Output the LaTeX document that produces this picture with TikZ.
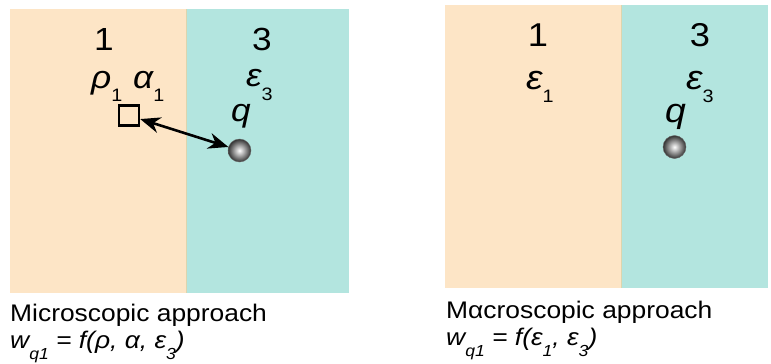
\documentclass[tikz,border=0pt]{standalone}
\usepackage{fontspec}
\setmainfont{Liberation Sans}
\usetikzlibrary{arrows.meta}
\definecolor{sand}{HTML}{FDE5C6}
\definecolor{aqua}{HTML}{B3E5DF}
\definecolor{seam}{HTML}{DCD5AE}
\newcommand\hwide[1]{\scalebox{1.1}[1]{#1}}
\newcommand\lowsub[2]{\raisebox{-#2pt}{\fontsize{16}{16}\selectfont #1}}
\newcommand\upsub[2]{\raisebox{-#2pt}{\fontsize{18}{18}\selectfont\upshape #1}}
\tikzset{
  digit/.style={inner sep=0pt, anchor=base, font=\fontsize{32}{32}\selectfont},
  greek/.style={inner sep=0pt, anchor=base west, font=\fontsize{32}{32}\selectfont\itshape},
  caption/.style={inner sep=0pt, anchor=base west, font=\fontsize{24}{28}\selectfont},
  charge/.style={circle, minimum size=23pt, inner sep=0pt, shading=radial, inner color=white, outer color=black!80, draw=black!60, line width=0.4pt},
  probe/.style={draw=black, line width=2.5pt, minimum size=20pt, inner sep=0pt},
  link/.style={line width=2.6pt, {Stealth[length=20pt,width=16pt]}-{Stealth[length=20pt,width=16pt]}}
}
\begin{document}
\begin{tikzpicture}[x=1pt,y=-1pt]
\useasboundingbox (0,0) rectangle (771,364);
% left panel
\fill[sand] (10,9) rectangle (186,293);
\fill[aqua] (186,9) rectangle (349,293);
\draw[seam, line width=0.8pt] (186,9) -- (186,293);
% right panel
\fill[sand] (445,5) rectangle (621,288);
\fill[aqua] (621,5) rectangle (768,288);
\draw[seam, line width=0.8pt] (621,5) -- (621,288);

% left labels
\node[digit] (l1) at (104,50) {\hwide{1}};
\node[digit] (l3) at (262,50) {\hwide{3}};
\node[greek] (lrho) at (91,88) {\hwide{ρ\upsub{1}{13}}};
\node[greek] (lalpha) at (133,88) {\hwide{α\upsub{1}{13}}};
\node[greek] (leps) at (246,86) {\hwide{ε\upsub{3}{14}}};
\node[greek] (lq) at (231,121) {\hwide{q}};
\node[probe] (sq) at (129,115.5) {};
\node[charge] (lball) at (239.5,150.5) {};
\draw[link] (sq) -- (lball);

% right labels
\node[digit, font=\fontsize{33}{33}\selectfont] (r1) at (538,46) {\hwide{1}};
\node[digit, font=\fontsize{33}{33}\selectfont] (r3) at (700,46) {\hwide{3}};
\node[greek, font=\fontsize{34}{34}\selectfont\itshape] (reps1) at (526,89) {\hwide{ε\upsub{1}{13}}};
\node[greek, font=\fontsize{34}{34}\selectfont\itshape] (reps3) at (686,89) {\hwide{ε\upsub{3}{13}}};
\node[greek, font=\fontsize{34}{34}\selectfont\itshape] (rq) at (665,122) {\hwide{q}};
\node[charge] (rball) at (674.5,147) {};

% captions
\node[caption] (lcap) at (10,321) {\hwide{Microscopic approach}};
\node[caption] (lform) at (10,348) {\hwide{\itshape w\lowsub{q1}{11} = f(ρ, α, ε\lowsub{3}{11})}};
\node[caption] (rcap) at (446,318) {\hwide{Mαcroscopic approach}};
\node[caption] (rform) at (446,345) {\hwide{\itshape w\lowsub{q1}{11} = f(ε\lowsub{1}{11}, ε\lowsub{3}{11})}};
\end{tikzpicture}
\end{document}
